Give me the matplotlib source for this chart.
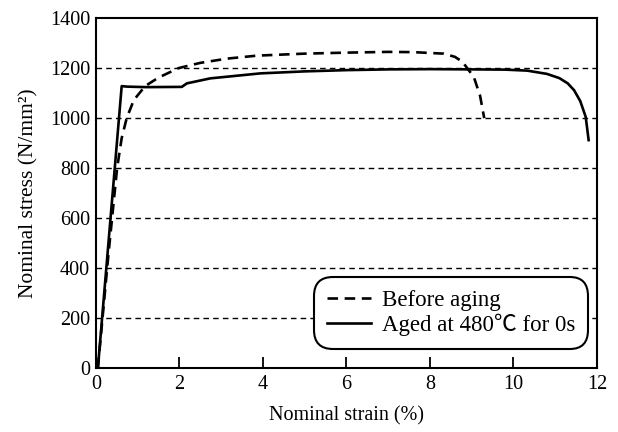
import matplotlib
matplotlib.use("Agg")
import matplotlib.pyplot as plt

plt.rcParams['font.family'] = ['Liberation Serif', 'Noto Sans CJK JP']

# Before aging (dashed)
before_x = [0.05, 0.3, 0.51, 0.62, 0.74, 0.91, 1.18, 1.5, 1.98, 2.5, 3.14, 3.86, 5.0, 6.0, 7.0, 7.6, 8.33, 8.6, 8.78, 9.05, 9.2, 9.3]
before_y = [0, 450, 800, 920, 1000, 1072, 1128, 1162, 1200, 1221, 1238, 1250, 1258, 1262, 1265, 1264, 1258, 1245, 1225, 1165, 1090, 1000]

# Aged at 480C for 0s (solid)
aged_x = [0.05, 0.62, 0.75, 1.2, 2.06, 2.18, 2.74, 3.94, 5.0, 6.0, 7.0, 8.0, 9.0, 9.8, 10.33, 10.8, 11.1, 11.3, 11.45, 11.6, 11.73, 11.8]
aged_y = [0, 1128, 1126, 1124, 1125, 1139, 1159, 1179, 1187, 1192, 1195, 1196, 1195, 1194, 1190, 1177, 1160, 1139, 1112, 1068, 1005, 912]

x_ticks = [0, 2, 4, 6, 8, 10, 12]
y_ticks = [0, 200, 400, 600, 800, 1000, 1200, 1400]
grid_y = [200, 400, 600, 800, 1000, 1200]

fig = plt.figure(figsize=(6.18, 4.32), dpi=100)
ax = fig.add_axes([0.155, 0.148, 0.811, 0.81])

for g in grid_y:
    ax.axhline(g, color='black', lw=1.0, ls=(0, (4, 3)), zorder=1)

ax.plot(before_x, before_y, color='black', lw=1.9, ls=(0, (4, 2.5)), label='Before aging', zorder=3)
ax.plot(aged_x, aged_y, color='black', lw=1.9, ls='-', label='Aged at 480℃ for 0s', zorder=3)

ax.set_xlim(0, 12)
ax.set_ylim(0, 1400)
ax.set_xticks(x_ticks)
ax.set_yticks(y_ticks)
ax.tick_params(direction='in', length=8, width=1.3, labelsize=14.5, colors='black', pad=5)
ax.tick_params(axis='y', length=0, pad=4)
for s in ax.spines.values():
    s.set_linewidth(1.5)

ax.set_xlabel('Nominal strain (%)', fontsize=14.5, labelpad=9)
ax.set_ylabel('Nominal stress (N/mm²)', fontsize=15.5, labelpad=8)

leg = ax.legend(loc='lower right', bbox_to_anchor=(0.982, 0.055), fontsize=16.5,
                frameon=True, fancybox=True, edgecolor='black', framealpha=1,
                handlelength=1.9, borderpad=0.55, labelspacing=0.12, handletextpad=0.5,
                borderaxespad=0.0)
leg.get_frame().set_linewidth(1.5)
leg.get_frame().set_boxstyle('round', pad=0.0, rounding_size=0.8)

fig.savefig('out.png', dpi=100)
